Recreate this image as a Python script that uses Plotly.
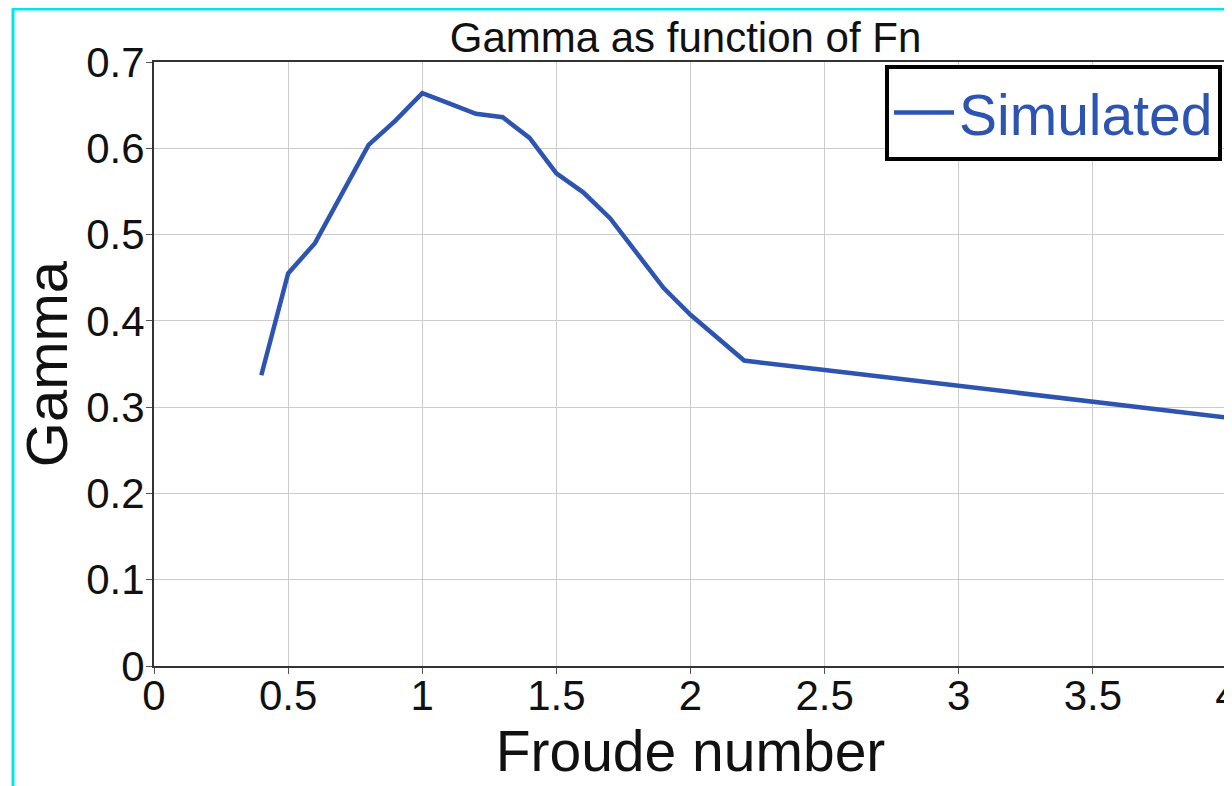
import plotly.graph_objects as go

# Data
froude = [0.4, 0.5, 0.6, 0.7, 0.8, 0.9, 1.0, 1.1, 1.2, 1.3, 1.4, 1.5, 1.6, 1.7, 1.9, 2.0, 2.2, 2.5, 3.0, 3.5, 4.0]
gamma = [0.337, 0.455, 0.490, 0.548, 0.604, 0.632, 0.664, 0.652, 0.640, 0.636, 0.612, 0.571, 0.549, 0.519, 0.438, 0.407, 0.354, 0.343, 0.325, 0.307, 0.288]
x_ticks = [0, 0.5, 1, 1.5, 2, 2.5, 3, 3.5, 4]
x_tick_labels = ["0", "0.5", "1", "1.5", "2", "2.5", "3", "3.5", "4"]
y_ticks = [0, 0.1, 0.2, 0.3, 0.4, 0.5, 0.6, 0.7]
y_tick_labels = ["0", "0.1", "0.2", "0.3", "0.4", "0.5", "0.6", "0.7"]

BLUE = "rgb(46,84,178)"
FONT = "Liberation Sans, Arial, sans-serif"

OFF = 8  # page body margin
W, H = 1232 - OFF, 786 - OFF
L, T = 154 - OFF, 62 - OFF
R = W - (1227 - OFF)
B = H - (666 - OFF)
pw, ph = W - L - R, H - T - B

fig = go.Figure()
fig.add_trace(go.Scatter(
    x=froude, y=gamma, mode="lines", name="Simulated",
    line=dict(color=BLUE, width=4.5),
))

axis_common = dict(
    showline=True, linecolor="#333333", linewidth=2, mirror=True,
    showgrid=True, gridcolor="#cccccc", gridwidth=1,
    ticks="outside", ticklen=6, tickcolor="#555555", tickwidth=1,
    zeroline=False, ticklabeloverflow="allow", automargin=False,
    tickfont=dict(family=FONT, size=42, color="#111111"),
)

fig.update_layout(
    width=W, height=H,
    margin=dict(l=L, r=R, t=T, b=B),
    paper_bgcolor="white", plot_bgcolor="white",
    font=dict(family=FONT, color="#111111"),
    title=dict(text="Gamma as function of Fn", x=(685.5 - OFF) / W, xanchor="center",
               y=1 - (37 - OFF) / H, yanchor="middle", yref="container",
               font=dict(family=FONT, size=42, color="#111111")),
    xaxis=dict(range=[0, 4], tickvals=x_ticks, ticktext=x_tick_labels,
               ticklabelstandoff=-14,
               title=dict(text="Froude number", standoff=6,
                          font=dict(family=FONT, size=57, color="#111111")),
               **axis_common),
    yaxis=dict(range=[0, 0.7], tickvals=y_ticks, ticktext=y_tick_labels,
               ticklabelstandoff=-7,
               title=dict(text="Gamma", standoff=0,
                          font=dict(family=FONT, size=58, color="#111111")),
               **axis_common),
    showlegend=True,
    legend=dict(x=(1222 - 154) / pw, xanchor="right", y=1 - 3 / ph, yanchor="top",
                bgcolor="white", bordercolor="black", borderwidth=4,
                font=dict(family=FONT, size=57, color=BLUE),
                itemwidth=60, tracegroupgap=0),
)

# Cyan frame around the figure (extends past the cropped right/bottom edges)
fig.add_shape(type="rect", xref="paper", yref="paper",
              x0=(13 - 154) / pw, x1=(1260 - 154) / pw,
              y0=-(160) / ph, y1=1 + (62 - 9) / ph,
              line=dict(color="rgb(0,230,230)", width=3), layer="above")

fig.write_html("out.html")
